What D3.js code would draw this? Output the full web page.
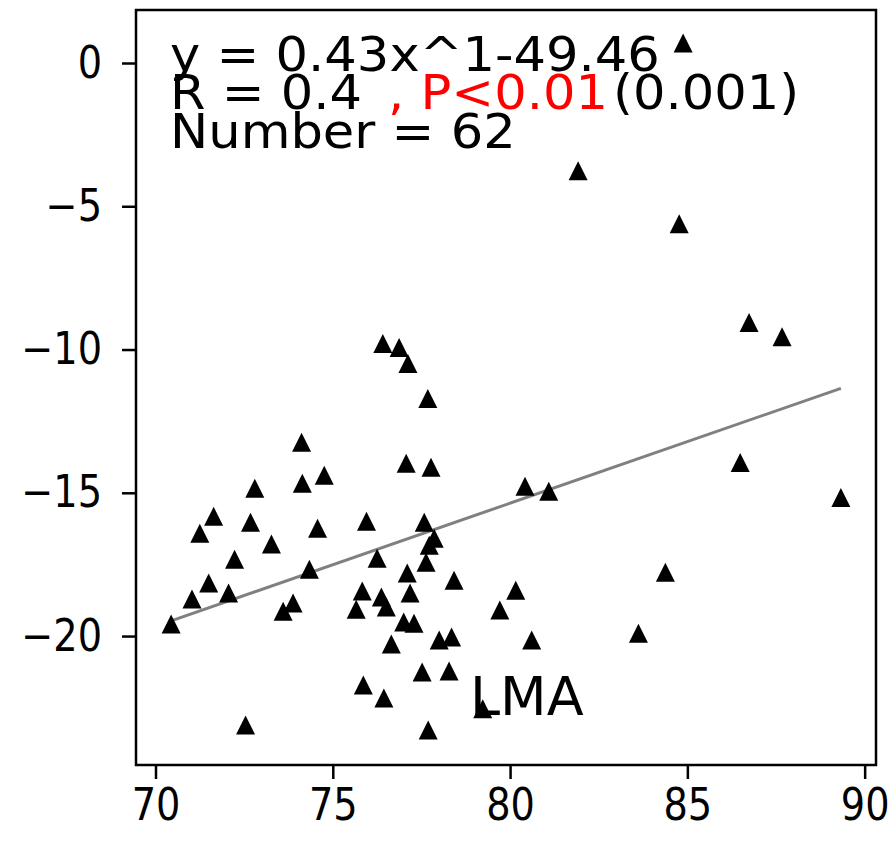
<!DOCTYPE html>
<html>

<head>
  <meta charset="UTF-8">
  <style>
    body { margin: 0; background: #fff; }
    text { font-family: "DejaVu Sans", sans-serif; }
  </style>
</head>

<body>
  <svg></svg>
  <script src="https://d3js.org/d3.v7.min.js"></script>

  <script>

    let width = 890, height = 846;

    // x values
    let xVals = [70.44, 71.03, 71.25, 71.50, 71.64, 72.06, 72.23, 72.54, 72.68, 72.80,
      73.27, 73.60, 73.88, 74.12, 74.14, 74.34, 74.57, 74.76, 75.66, 75.86,
      75.95, 75.83, 76.25, 76.37, 76.41, 76.44, 76.51, 76.65, 76.87, 77.00,
      77.07, 77.10, 77.12, 77.18, 77.29, 77.52, 77.58, 77.63, 77.69, 77.68,
      77.77, 77.72, 77.86, 78.00, 78.28, 78.35, 78.42, 79.23, 79.71, 80.16,
      80.42, 80.61, 81.09, 81.92, 83.62, 84.38, 84.88, 84.77, 86.74, 86.49,
      87.67, 89.33];

    let yVals = [-19.58, -18.71, -16.41, -18.15, -15.82, -18.50, -17.32, -23.10, -16.03, -14.84,
      -16.79, -19.13, -18.85, -13.24, -14.67, -17.67, -16.24, -14.39, -19.06, -21.71,
      -15.99, -18.43, -17.28, -18.64, -9.79, -22.16, -18.99, -20.28, -9.93, -19.51,
      -13.97, -17.80, -10.49, -18.50, -19.55, -21.25, -16.03, -17.42, -23.28, -11.71,
      -14.11, -16.83, -16.59, -20.14, -21.22, -20.03, -18.05, -22.54, -19.09, -18.40,
      -14.77, -20.14, -14.95, -3.76, -19.90, -17.77, 0.70, -5.61, -9.06, -13.94,
      -9.55, -15.16];

    let xTicks = [70, 75, 80, 85, 90];
    let yTicks = [0, -5, -10, -15, -20];

    let eqLabel = "y = 0.43x^1-49.46";
    let rLabel = "R = 0.4";
    let pLabel = ", P<0.01";
    let pValue = "(0.001)";
    let nLabel = "Number = 62";
    let panelLabel = "LMA";

    let margin = { left: 136, right: 14, top: 10, bottom: 81 };

    let svg = d3.select("svg")
      .attr("width", width)
      .attr("height", height);

    let x = d3.scaleLinear()
      .domain([69.45, 90.32])
      .range([margin.left, width - margin.right]);

    let y = d3.scaleLinear()
      .domain([-24.5, 1.85])
      .range([height - margin.bottom, margin.top]);

    // least squares fit
    let mx = d3.mean(xVals), my = d3.mean(yVals);
    let sxy = d3.sum(xVals, (v, i) => (v - mx) * (yVals[i] - my));
    let sxx = d3.sum(xVals, v => (v - mx) * (v - mx));
    let slope = sxy / sxx, intercept = my - slope * mx;
    let x0 = d3.min(xVals), x1 = d3.max(xVals);

    svg.append("line")
      .attr("x1", x(x0)).attr("y1", y(slope * x0 + intercept))
      .attr("x2", x(x1)).attr("y2", y(slope * x1 + intercept))
      .attr("stroke", "#808080")
      .attr("stroke-width", 3);

    // triangles like matplotlib '^'
    let s = 9.5;
    svg.append("g")
      .selectAll("path")
      .data(xVals.map((v, i) => [v, yVals[i]]))
      .enter()
      .append("path")
      .attr("transform", d => "translate(" + x(d[0]) + "," + y(d[1]) + ")")
      .attr("d", "M0," + (-s) + "L" + s + "," + s + "L" + (-s) + "," + s + "Z")
      .attr("fill", "black");

    // axes
    let xAxis = svg.append("g")
      .attr("transform", "translate(0," + (height - margin.bottom) + ")")
      .call(d3.axisBottom(x).tickValues(xTicks).tickSize(14).tickPadding(10));

    let yAxis = svg.append("g")
      .attr("transform", "translate(" + margin.left + ",0)")
      .call(d3.axisLeft(y).tickValues(yTicks).tickSize(14).tickPadding(20)
        .tickFormat(d => d < 0 ? "\u2212" + Math.abs(d) : d));

    let sx = 0.87; // tick labels look narrow in the original
    [xAxis, yAxis].forEach(a => {
      a.select(".domain").remove();
      a.selectAll("line").attr("stroke", "black").attr("stroke-width", 2.5);
      a.selectAll("text").attr("fill", "black").attr("font-size", 44)
        .attr("font-family", "DejaVu Sans")
        .attr("x", function () { return (+d3.select(this).attr("x") || 0) / sx; })
        .attr("transform", "scale(" + sx + ",1)");
    });
    xAxis.selectAll("text").attr("dy", "0.71em");

    // frame
    svg.append("rect")
      .attr("x", margin.left).attr("y", margin.top)
      .attr("width", width - margin.left - margin.right)
      .attr("height", height - margin.top - margin.bottom)
      .attr("fill", "none")
      .attr("stroke", "black")
      .attr("stroke-width", 2.5);

    // annotations (slightly wide text in the original)
    let ax = 170, k = 1.065;
    let ann = svg.append("g")
      .attr("font-size", 48).attr("fill", "black")
      .attr("transform", "translate(" + ax + ",0) scale(" + k + ",1)");
    ann.append("text").attr("x", 0).attr("y", 71).text(eqLabel);
    ann.append("text").attr("x", 0).attr("y", 109).text(rLabel);
    ann.append("text").attr("x", (388 - ax) / k).attr("y", 109).attr("fill", "red").text(pLabel);
    ann.append("text").attr("x", (613 - ax) / k).attr("y", 109).text(pValue);
    ann.append("text").attr("x", 0).attr("y", 148).text(nLabel);

    svg.append("text")
      .attr("x", 470).attr("y", 715)
      .attr("font-size", 54)
      .attr("fill", "black")
      .text(panelLabel);

  </script>

</body>

</html>
